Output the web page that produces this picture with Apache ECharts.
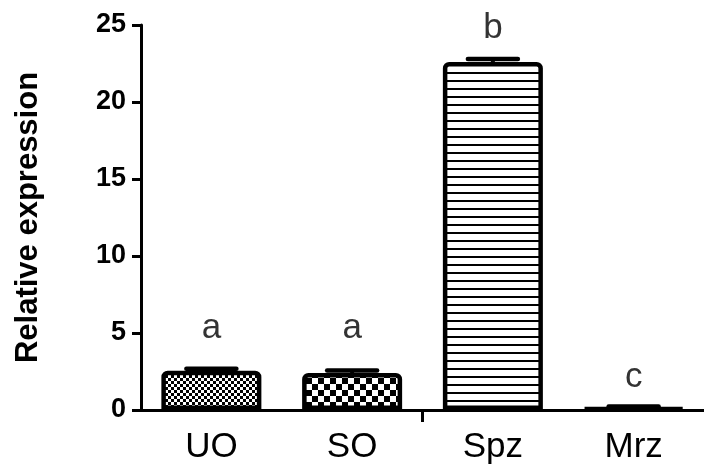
<!DOCTYPE html>
<html>
<head>
<meta charset="utf-8">
<script src="https://cdn.jsdelivr.net/npm/echarts@6/dist/echarts.min.js"></script>
<style>
html,body{margin:0;padding:0;background:#fff;}
#chart{width:704px;height:466px;}
</style>
</head>
<body>
<div id="chart"></div>
<script>
const categories = ['UO', 'SO', 'Spz', 'Mrz'];
const means = [2.55, 2.4, 22.6, 0.12];
const sems = [0.13, 0.16, 0.2, 0.1];
const letters = ['a', 'a', 'b', 'c'];
const letterY = [5.3, 5.3, 24.8, 2.1];
const yTicks = [0, 5, 10, 15, 20, 25];
const breakTick = [2]; // boundary between SO and Spz (in category units)

const FONT = '"Liberation Sans", Arial, sans-serif';

function makePattern(kind) {
  const c = document.createElement('canvas');
  const ctx = c.getContext('2d');
  if (kind === 'fineCheck' || kind === 'coarseCheck') {
    const s = kind === 'fineCheck' ? 3 : 6;
    c.width = s * 2; c.height = s * 2;
    ctx.fillStyle = '#fff'; ctx.fillRect(0, 0, s * 2, s * 2);
    ctx.fillStyle = '#000';
    ctx.fillRect(0, 0, s, s);
    ctx.fillRect(s, s, s, s);
  } else {
    c.width = 8; c.height = 8;
    ctx.fillStyle = '#fff'; ctx.fillRect(0, 0, 8, 8);
    ctx.fillStyle = '#000'; ctx.fillRect(0, 0, 8, 2);
  }
  return { image: c, repeat: 'repeat' };
}
const patterns = [makePattern('fineCheck'), makePattern('coarseCheck'), makePattern('lines'), '#000'];

const chart = echarts.init(document.getElementById('chart'), null, { renderer: 'canvas' });

const option = {
  animation: false,
  backgroundColor: '#fff',
  grid: { left: 141, top: 25, width: 572, height: 385, containLabel: false },
  xAxis: [{
    type: 'category',
    data: categories,
    boundaryGap: true,
    axisLine: { lineStyle: { color: '#000', width: 3 } },
    axisTick: { show: false },
    axisLabel: { color: '#000', fontSize: 35, fontFamily: FONT, margin: 20 }
  }, {
    type: 'value',
    position: 'bottom',
    min: 0,
    max: categories.length,
    axisLine: { show: false },
    axisLabel: { show: false },
    splitLine: { show: false },
    axisTick: {
      show: true, length: 12,
      customValues: breakTick,
      lineStyle: { color: '#000', width: 3 }
    }
  }],
  yAxis: {
    type: 'value',
    min: yTicks[0],
    max: yTicks[yTicks.length - 1],
    interval: yTicks[1] - yTicks[0],
    name: 'Relative expression',
    nameLocation: 'middle',
    nameRotate: 90,
    nameGap: 97,
    nameTextStyle: { color: '#000', fontSize: 31, fontWeight: 'bold', fontFamily: FONT },
    axisLine: { show: true, lineStyle: { color: '#000', width: 3 } },
    axisTick: { show: true, length: 9, lineStyle: { color: '#000', width: 3 } },
    axisLabel: { color: '#000', fontSize: 27, fontWeight: 'bold', fontFamily: FONT, margin: 15 },
    splitLine: { show: false }
  },
  series: [
    {
      type: 'bar',
      barWidth: 100,
      xAxisIndex: 0,
      data: means.map((v, i) => ({
        value: v,
        itemStyle: { color: patterns[i], borderColor: '#000', borderWidth: 4.5, borderRadius: [4, 4, 0, 0] }
      })),
      z: 2
    },
    {
      type: 'custom',
      xAxisIndex: 0,
      z: 3,
      data: means.map((v, i) => [i, v, sems[i]]),
      renderItem: function (params, api) {
        const i = api.value(0);
        const base = api.coord([i, api.value(1)]);
        const top = api.coord([i, api.value(1) + api.value(2)]);
        return {
          type: 'group',
          children: [
            { type: 'line', shape: { x1: base[0], y1: base[1], x2: top[0], y2: top[1] },
              style: { stroke: '#000', lineWidth: 4 } },
            { type: 'line', shape: { x1: top[0] - 25, y1: top[1], x2: top[0] + 25, y2: top[1] },
              style: { stroke: '#000', lineWidth: 4.5, lineCap: 'round' } }
          ]
        };
      }
    },
    {
      type: 'scatter',
      xAxisIndex: 0,
      symbolSize: 0,
      data: letterY.map((v, i) => [i, v]),
      label: {
        show: true, position: 'inside',
        formatter: function (p) { return letters[p.dataIndex]; },
        color: '#000', fontSize: 35, fontFamily: FONT
      },
      z: 4
    }
  ]
};
chart.setOption(option);
</script>
</body>
</html>
